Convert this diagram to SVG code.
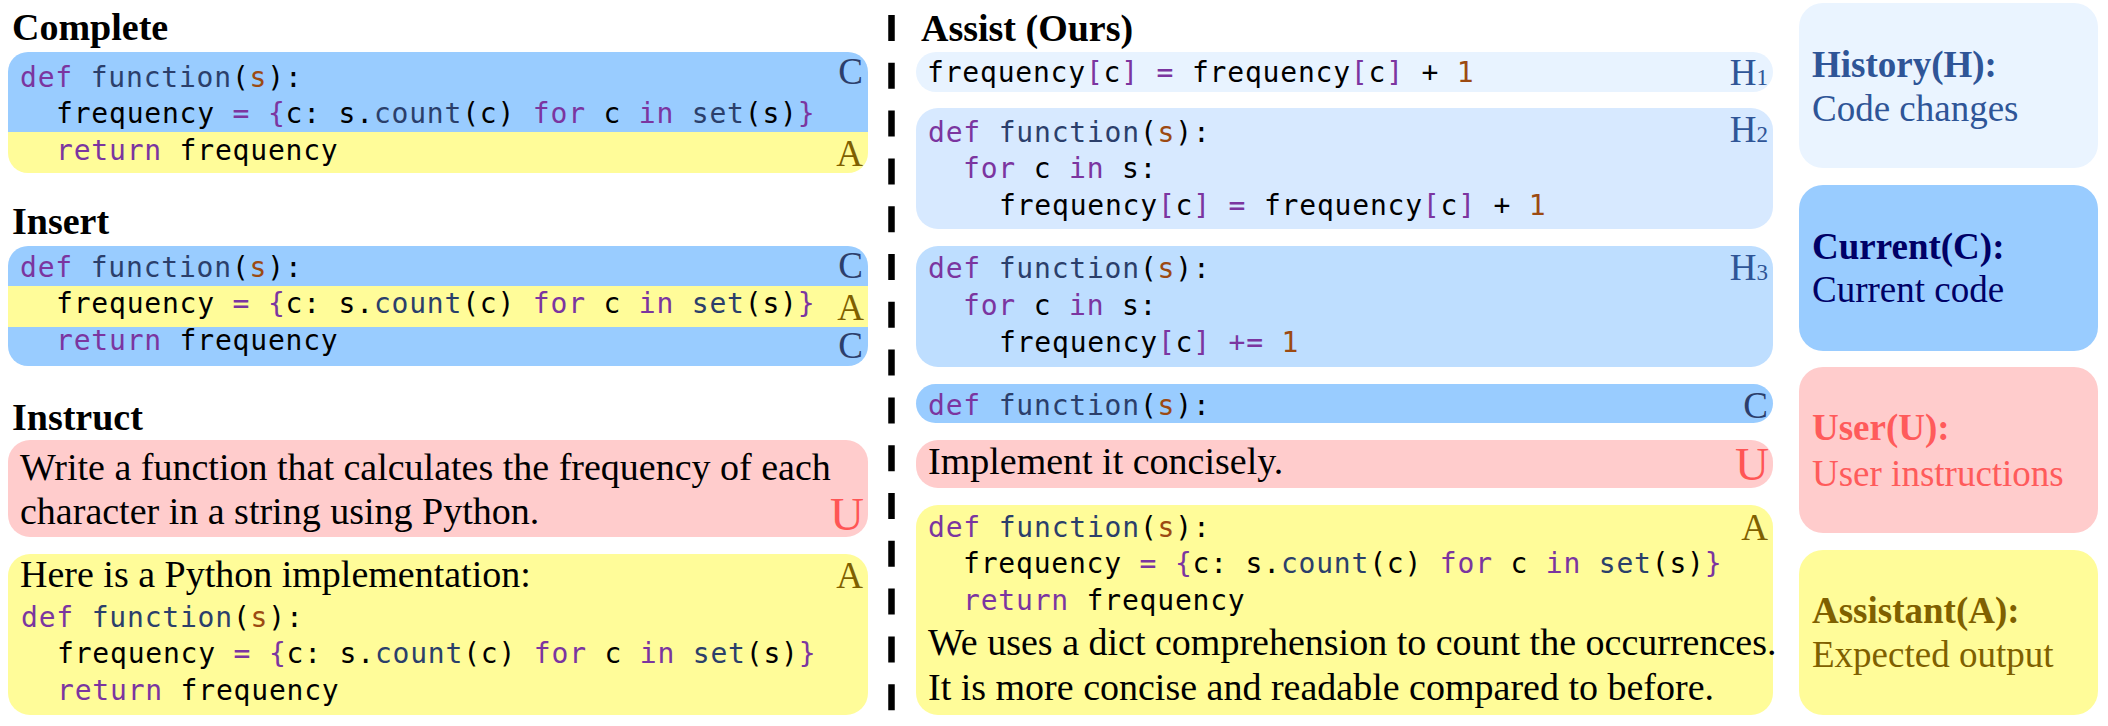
<svg xmlns="http://www.w3.org/2000/svg" width="2108" height="726" viewBox="0 0 2108 726">
<style>
.code{font-family:'DejaVu Sans Mono','Liberation Mono',monospace;font-size:28px;letter-spacing:0.8px;fill:#000}
.k{fill:#7B35A0}.f{fill:#2B3F6B}.p{fill:#9C4A12}
.ser{font-family:'Liberation Serif','Times New Roman',serif;font-size:38px;fill:#000}
.ttl{font-family:'Liberation Serif','Times New Roman',serif;font-size:38px;font-weight:bold;fill:#000}
.lab{font-family:'Liberation Serif','Times New Roman',serif;font-size:37px;text-anchor:end}
.lc{fill:#2C3E6B}.la{fill:#7F6000}.lu{fill:#FF5555;font-size:47px}.lh{fill:#2F5597}
.lg{font-family:'Liberation Serif','Times New Roman',serif;font-size:37px}
.b{font-weight:bold}
.cB{fill:#99CCFF}.yB{fill:#FFFC99}.uB{fill:#FFCCCC}
</style>
<defs>
<clipPath id="clipComplete"><rect x="8" y="52" width="860" height="121" rx="20"/></clipPath>
<clipPath id="clipInsert"><rect x="8" y="246" width="860" height="120" rx="20"/></clipPath>
</defs>

<g id="separator">
<line x1="891.5" y1="15" x2="891.5" y2="716" stroke="#000" stroke-width="6.5" stroke-dasharray="26 21.8"/>
</g>

<g id="titles">
<text class="ttl" x="12" y="40">Complete</text>
<text class="ttl" x="12" y="234">Insert</text>
<text class="ttl" x="12" y="430">Instruct</text>
<text class="ttl" x="921" y="41">Assist (Ours)</text>
</g>

<g id="complete">
<g clip-path="url(#clipComplete)">
<rect class="cB" x="8" y="52" width="860" height="80"/>
<rect class="yB" x="8" y="132" width="860" height="41"/>
</g>
<text class="code" x="20" y="87"><tspan class="k">def</tspan> <tspan class="f">function</tspan>(<tspan class="p">s</tspan>):</text>
<text class="code" x="56" y="123">frequency <tspan class="k">=</tspan> <tspan class="k">{</tspan>c: s.<tspan class="f">count</tspan>(c) <tspan class="k">for</tspan> c <tspan class="k">in</tspan> <tspan class="f">set</tspan>(s)<tspan class="k">}</tspan></text>
<text class="code" x="56" y="160"><tspan class="k">return</tspan> frequency</text>
<text class="lab lc" x="863" y="84">C</text>
<text class="lab la" x="863" y="166">A</text>
</g>

<g id="insert">
<g clip-path="url(#clipInsert)">
<rect class="cB" x="8" y="246" width="860" height="40"/>
<rect class="yB" x="8" y="286" width="860" height="41"/>
<rect class="cB" x="8" y="327" width="860" height="39"/>
</g>
<text class="code" x="20" y="277"><tspan class="k">def</tspan> <tspan class="f">function</tspan>(<tspan class="p">s</tspan>):</text>
<text class="code" x="56" y="313">frequency <tspan class="k">=</tspan> <tspan class="k">{</tspan>c: s.<tspan class="f">count</tspan>(c) <tspan class="k">for</tspan> c <tspan class="k">in</tspan> <tspan class="f">set</tspan>(s)<tspan class="k">}</tspan></text>
<text class="code" x="56" y="350"><tspan class="k">return</tspan> frequency</text>
<text class="lab lc" x="863" y="278">C</text>
<text class="lab la" x="864" y="320">A</text>
<text class="lab lc" x="863" y="358">C</text>
</g>

<g id="instruct-user">
<rect class="uB" x="8" y="440" width="860" height="97" rx="22"/>
<text class="ser" x="20" y="480">Write a function that calculates the frequency of each</text>
<text class="ser" x="20" y="524">character in a string using Python.</text>
<text class="lab lu" x="864" y="530">U</text>
</g>

<g id="instruct-assistant">
<rect class="yB" x="8" y="554" width="860" height="161" rx="22"/>
<text class="ser" x="20" y="587">Here is a Python implementation:</text>
<text class="code" x="21" y="627"><tspan class="k">def</tspan> <tspan class="f">function</tspan>(<tspan class="p">s</tspan>):</text>
<text class="code" x="57" y="663">frequency <tspan class="k">=</tspan> <tspan class="k">{</tspan>c: s.<tspan class="f">count</tspan>(c) <tspan class="k">for</tspan> c <tspan class="k">in</tspan> <tspan class="f">set</tspan>(s)<tspan class="k">}</tspan></text>
<text class="code" x="57" y="700"><tspan class="k">return</tspan> frequency</text>
<text class="lab la" x="863" y="588">A</text>
</g>

<g id="history1">
<rect x="916" y="52" width="857" height="40" rx="20" fill="#E8F3FF"/>
<text class="code" x="927" y="82">frequency<tspan class="k">[</tspan>c<tspan class="k">]</tspan> <tspan class="k">=</tspan> frequency<tspan class="k">[</tspan>c<tspan class="k">]</tspan> + <tspan class="p">1</tspan></text>
<text class="lab lh" x="1768" y="85">H<tspan font-size="23">1</tspan></text>
</g>

<g id="history2">
<rect x="916" y="108" width="857" height="121" rx="22" fill="#D7E9FF"/>
<text class="code" x="928" y="142"><tspan class="k">def</tspan> <tspan class="f">function</tspan>(<tspan class="p">s</tspan>):</text>
<text class="code" x="963" y="178"><tspan class="k">for</tspan> c <tspan class="k">in</tspan> s:</text>
<text class="code" x="999" y="215">frequency<tspan class="k">[</tspan>c<tspan class="k">]</tspan> <tspan class="k">=</tspan> frequency<tspan class="k">[</tspan>c<tspan class="k">]</tspan> + <tspan class="p">1</tspan></text>
<text class="lab lh" x="1768" y="142">H<tspan font-size="23">2</tspan></text>
</g>

<g id="history3">
<rect x="916" y="246" width="857" height="121" rx="22" fill="#BEDEFF"/>
<text class="code" x="928" y="278"><tspan class="k">def</tspan> <tspan class="f">function</tspan>(<tspan class="p">s</tspan>):</text>
<text class="code" x="963" y="315"><tspan class="k">for</tspan> c <tspan class="k">in</tspan> s:</text>
<text class="code" x="999" y="352">frequency<tspan class="k">[</tspan>c<tspan class="k">]</tspan> <tspan class="k">+=</tspan> <tspan class="p">1</tspan></text>
<text class="lab lh" x="1768" y="280">H<tspan font-size="23">3</tspan></text>
</g>

<g id="current">
<rect class="cB" x="916" y="384" width="857" height="39" rx="19.5"/>
<text class="code" x="928" y="415"><tspan class="k">def</tspan> <tspan class="f">function</tspan>(<tspan class="p">s</tspan>):</text>
<text class="lab lc" x="1768" y="418">C</text>
</g>

<g id="user">
<rect class="uB" x="916" y="440" width="857" height="48" rx="22"/>
<text class="ser" x="928" y="474">Implement it concisely.</text>
<text class="lab lu" x="1769" y="480">U</text>
</g>

<g id="assistant">
<rect class="yB" x="916" y="505" width="857" height="210" rx="22"/>
<text class="code" x="928" y="537"><tspan class="k">def</tspan> <tspan class="f">function</tspan>(<tspan class="p">s</tspan>):</text>
<text class="code" x="963" y="573">frequency <tspan class="k">=</tspan> <tspan class="k">{</tspan>c: s.<tspan class="f">count</tspan>(c) <tspan class="k">for</tspan> c <tspan class="k">in</tspan> <tspan class="f">set</tspan>(s)<tspan class="k">}</tspan></text>
<text class="code" x="963" y="610"><tspan class="k">return</tspan> frequency</text>
<text class="ser" x="928" y="655">We uses a dict comprehension to count the occurrences.</text>
<text class="ser" x="928" y="700">It is more concise and readable compared to before.</text>
<text class="lab la" x="1768" y="540">A</text>
</g>

<g id="legend-history">
<rect x="1799" y="3" width="299" height="165" rx="24" fill="#EAF4FF"/>
<text class="lg b" x="1812" y="77" fill="#2F5597">History(H):</text>
<text class="lg" x="1812" y="121" fill="#2F5597">Code changes</text>
</g>
<g id="legend-current">
<rect x="1799" y="185" width="299" height="166" rx="24" fill="#99CCFF"/>
<text class="lg b" x="1812" y="259" fill="#000066">Current(C):</text>
<text class="lg" x="1812" y="302" fill="#000066">Current code</text>
</g>
<g id="legend-user">
<rect x="1799" y="367" width="299" height="166" rx="24" fill="#FFCCCC"/>
<text class="lg b" x="1812" y="440" fill="#FF5B5B">User(U):</text>
<text class="lg" x="1812" y="486" fill="#FF5B5B">User instructions</text>
</g>
<g id="legend-assistant">
<rect x="1799" y="550" width="299" height="165" rx="24" fill="#FFFC99"/>
<text class="lg b" x="1812" y="623" fill="#7F6000">Assistant(A):</text>
<text class="lg" x="1812" y="667" fill="#7F6000">Expected output</text>
</g>
</svg>
